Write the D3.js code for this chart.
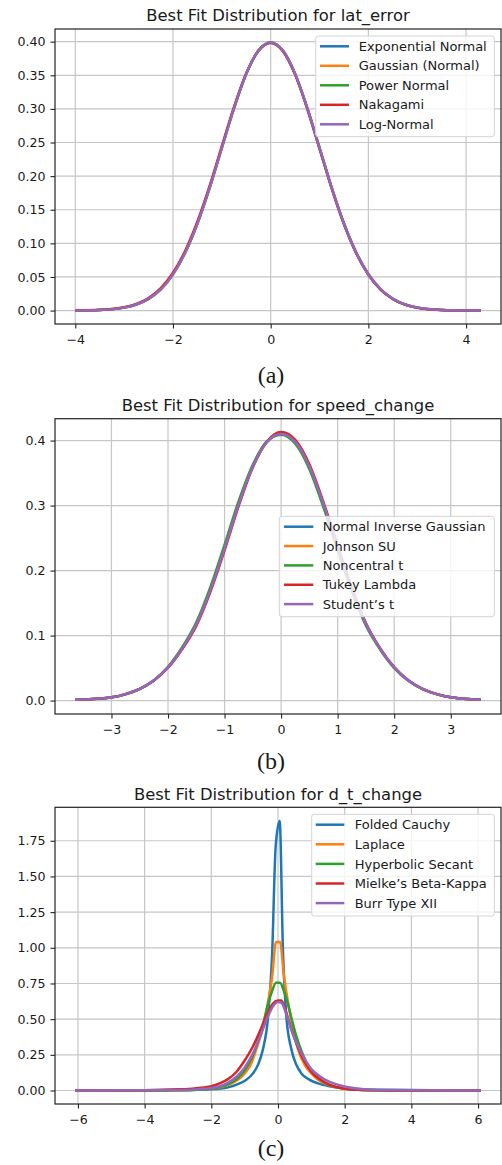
<!DOCTYPE html>
<html>
<head>
<meta charset="utf-8">
<script src="https://cdn.jsdelivr.net/npm/d3@7"></script>
<style>
  html, body { margin: 0; padding: 0; background: #fff; }
  svg { display: block; }
  text { font-family: "DejaVu Sans", sans-serif; fill: #1a1a1a; }
  .cap { font-family: "Liberation Serif", "Times New Roman", serif; }
</style>
</head>
<body>
<svg id="chart" width="502" height="1165"></svg>
<script>
// ---------------- DATA ----------------
// Panel (a): lat_error
const titleA = "Best Fit Distribution for lat_error";
const namesA = ["Exponential Normal", "Gaussian (Normal)", "Power Normal", "Nakagami", "Log-Normal"];
const xA = [-4, -3.5, -3, -2.75, -2.5, -2.25, -2, -1.75, -1.5, -1.25, -1, -0.75, -0.5, -0.25, 0, 0.25, 0.5, 0.75, 1, 1.25, 1.5, 1.75, 2, 2.25, 2.5, 2.75, 3, 3.5, 4, 4.3];
const expNormalA = [0.0001, 0.0009, 0.0044, 0.0091, 0.0175, 0.0317, 0.0540, 0.0863, 0.1295, 0.1826, 0.2420, 0.3011, 0.3521, 0.3867, 0.3989, 0.3867, 0.3521, 0.3011, 0.2420, 0.1826, 0.1295, 0.0863, 0.0540, 0.0317, 0.0175, 0.0091, 0.0044, 0.0009, 0.0001, 0.0000];
const gaussianA  = [0.0001, 0.0009, 0.0044, 0.0091, 0.0175, 0.0317, 0.0540, 0.0863, 0.1295, 0.1826, 0.2420, 0.3011, 0.3521, 0.3867, 0.3989, 0.3867, 0.3521, 0.3011, 0.2420, 0.1826, 0.1295, 0.0863, 0.0540, 0.0317, 0.0175, 0.0091, 0.0044, 0.0009, 0.0001, 0.0000];
const powerNormA = [0.0001, 0.0009, 0.0045, 0.0092, 0.0176, 0.0319, 0.0543, 0.0866, 0.1299, 0.1830, 0.2424, 0.3014, 0.3523, 0.3868, 0.3988, 0.3865, 0.3518, 0.3007, 0.2416, 0.1822, 0.1291, 0.0860, 0.0537, 0.0315, 0.0174, 0.0090, 0.0044, 0.0009, 0.0001, 0.0000];
const nakagamiA  = [0.0002, 0.0011, 0.0050, 0.0100, 0.0188, 0.0335, 0.0562, 0.0890, 0.1325, 0.1855, 0.2445, 0.3030, 0.3530, 0.3866, 0.3982, 0.3858, 0.3510, 0.2998, 0.2408, 0.1815, 0.1286, 0.0855, 0.0533, 0.0312, 0.0172, 0.0089, 0.0043, 0.0009, 0.0001, 0.0000];
const logNormalA = [0.0001, 0.0009, 0.0044, 0.0090, 0.0174, 0.0316, 0.0539, 0.0862, 0.1294, 0.1826, 0.2420, 0.3012, 0.3522, 0.3868, 0.3989, 0.3868, 0.3522, 0.3012, 0.2421, 0.1827, 0.1296, 0.0864, 0.0541, 0.0318, 0.0176, 0.0092, 0.0045, 0.0009, 0.0001, 0.0000];
const xTicksA = [-4, -2, 0, 2, 4];
const yTicksA = [0, 0.05, 0.10, 0.15, 0.20, 0.25, 0.30, 0.35, 0.40];

// Panel (b): speed_change
const titleB = "Best Fit Distribution for speed_change";
const namesB = ["Normal Inverse Gaussian", "Johnson SU", "Noncentral t", "Tukey Lambda", "Student\u2019s t"];
const xB = [-3.64, -3.5, -3, -2.75, -2.5, -2.25, -2, -1.75, -1.5, -1.25, -1, -0.75, -0.5, -0.25, 0, 0.25, 0.5, 0.75, 1, 1.25, 1.5, 1.75, 2, 2.25, 2.5, 2.75, 3, 3.53];
const norInvGaussB = [0.0012, 0.0016, 0.0050, 0.0100, 0.0180, 0.0310, 0.0510, 0.0800, 0.1170, 0.1700, 0.2340, 0.3020, 0.3600, 0.3980, 0.4100, 0.3980, 0.3600, 0.3020, 0.2360, 0.1720, 0.1180, 0.0800, 0.0510, 0.0310, 0.0180, 0.0100, 0.0050, 0.0013];
const johnsonSUB   = [0.0012, 0.0016, 0.0050, 0.0100, 0.0180, 0.0310, 0.0510, 0.0800, 0.1170, 0.1700, 0.2340, 0.3020, 0.3600, 0.3980, 0.4100, 0.3980, 0.3600, 0.3020, 0.2360, 0.1720, 0.1180, 0.0800, 0.0510, 0.0310, 0.0180, 0.0100, 0.0050, 0.0013];
const noncentralTB = [0.0011, 0.0015, 0.0047, 0.0097, 0.0178, 0.0312, 0.0520, 0.0820, 0.1205, 0.1750, 0.2400, 0.3070, 0.3630, 0.3990, 0.4090, 0.3950, 0.3560, 0.2970, 0.2310, 0.1680, 0.1150, 0.0785, 0.0500, 0.0305, 0.0178, 0.0100, 0.0050, 0.0013];
const tukeyLambdaB = [0.0012, 0.0016, 0.0050, 0.0100, 0.0180, 0.0308, 0.0505, 0.0790, 0.1150, 0.1675, 0.2310, 0.2995, 0.3590, 0.3985, 0.4130, 0.4010, 0.3635, 0.3050, 0.2385, 0.1735, 0.1190, 0.0805, 0.0512, 0.0311, 0.0180, 0.0100, 0.0050, 0.0013];
const studentTB    = [0.0012, 0.0016, 0.0050, 0.0100, 0.0180, 0.0310, 0.0510, 0.0800, 0.1170, 0.1700, 0.2340, 0.3020, 0.3600, 0.3980, 0.4100, 0.3980, 0.3600, 0.3020, 0.2360, 0.1720, 0.1180, 0.0800, 0.0510, 0.0310, 0.0180, 0.0100, 0.0050, 0.0013];
const xTicksB = [-3, -2, -1, 0, 1, 2, 3];
const yTicksB = [0, 0.1, 0.2, 0.3, 0.4];

// Panel (c): d_t_change
const titleC = "Best Fit Distribution for d_t_change";
const namesC = ["Folded Cauchy", "Laplace", "Hyperbolic Secant", "Mielke\u2019s Beta-Kappa", "Burr Type XII"];
const foldedCauchyX = [-6.08, -5, -4, -3, -2.5, -2, -1.5, -1.15, -0.95, -0.75, -0.6, -0.45, -0.3, -0.18, -0.07, 0.05, 0.15, 0.25, 0.4, 0.55, 0.7, 0.95, 1.2, 1.5, 2, 2.5, 3, 4, 5, 6.08];
const foldedCauchyY = [0.001, 0.001, 0.002, 0.003, 0.005, 0.008, 0.022, 0.050, 0.075, 0.120, 0.180, 0.290, 0.510, 0.930, 1.710, 1.890, 0.970, 0.520, 0.290, 0.180, 0.120, 0.075, 0.050, 0.032, 0.016, 0.009, 0.005, 0.003, 0.002, 0.001];
const laplaceX = [-6.08, -4, -3, -2.5, -2, -1.5, -1.2, -1.0, -0.8, -0.65, -0.5, -0.4, -0.3, -0.18, -0.06, 0.06, 0.18, 0.3, 0.4, 0.6, 0.8, 1.0, 1.2, 1.5, 2, 2.5, 3, 4, 6.08];
const laplaceY = [0.000, 0.001, 0.002, 0.005, 0.013, 0.040, 0.075, 0.120, 0.190, 0.290, 0.400, 0.500, 0.620, 0.790, 1.040, 1.040, 0.800, 0.620, 0.490, 0.290, 0.180, 0.120, 0.075, 0.040, 0.013, 0.005, 0.002, 0.001, 0.000];
const hypSecantX = [-6.08, -4, -3, -2.5, -2, -1.5, -1.25, -1.0, -0.85, -0.7, -0.55, -0.42, -0.3, -0.18, -0.06, 0.06, 0.18, 0.3, 0.42, 0.55, 0.7, 0.85, 1.0, 1.25, 1.5, 2, 2.5, 3, 4, 6.08];
const hypSecantY = [0.000, 0.000, 0.001, 0.004, 0.013, 0.043, 0.078, 0.140, 0.198, 0.279, 0.381, 0.492, 0.604, 0.695, 0.755, 0.755, 0.695, 0.604, 0.492, 0.381, 0.279, 0.198, 0.140, 0.078, 0.043, 0.013, 0.004, 0.001, 0.000, 0.000];
const mielkeX = [-6.08, -4, -3, -2.5, -2, -1.75, -1.5, -1.25, -1.0, -0.75, -0.5, -0.3, -0.15, 0.0, 0.1, 0.25, 0.4, 0.6, 0.8, 1.0, 1.25, 1.5, 2, 2.5, 3, 4, 6.08];
const mielkeY = [0.000, 0.002, 0.008, 0.015, 0.030, 0.050, 0.080, 0.130, 0.210, 0.310, 0.440, 0.550, 0.610, 0.630, 0.630, 0.545, 0.430, 0.300, 0.200, 0.130, 0.080, 0.045, 0.013, 0.004, 0.001, 0.000, 0.000];
const burrX = [-6.08, -4, -3, -2.5, -2, -1.75, -1.5, -1.25, -1.0, -0.75, -0.5, -0.3, -0.15, 0.0, 0.1, 0.25, 0.4, 0.6, 0.8, 1.0, 1.25, 1.5, 2, 2.5, 3, 4, 6.08];
const burrY = [0.000, 0.001, 0.003, 0.007, 0.018, 0.030, 0.055, 0.095, 0.160, 0.260, 0.400, 0.520, 0.590, 0.620, 0.615, 0.535, 0.425, 0.310, 0.220, 0.150, 0.100, 0.065, 0.028, 0.010, 0.003, 0.001, 0.000];
const xTicksC = [-6, -4, -2, 0, 2, 4, 6];
const yTicksC = [0, 0.25, 0.50, 0.75, 1.00, 1.25, 1.50, 1.75];

const colors = ["#1f77b4", "#ff7f0e", "#2ca02c", "#d62728", "#9467bd"];

// ---------------- DRAWING ----------------
const svg = d3.select("#chart");

function zipXY(xs, ys) { return xs.map((x, i) => [x, ys[i]]); }

function panel(cfg) {
  const x = d3.scaleLinear().domain(cfg.xDomain).range([cfg.left, cfg.right]);
  const y = d3.scaleLinear().domain(cfg.yDomain).range([cfg.bottom, cfg.top]);
  const g = svg.append("g");

  // grid
  g.append("g").selectAll("line").data(cfg.xTicks).join("line")
    .attr("x1", d => x(d)).attr("x2", d => x(d))
    .attr("y1", cfg.top).attr("y2", cfg.bottom)
    .attr("stroke", "#c6c6c6").attr("stroke-width", 1.2);
  g.append("g").selectAll("line").data(cfg.yTicks).join("line")
    .attr("x1", cfg.left).attr("x2", cfg.right)
    .attr("y1", d => y(d)).attr("y2", d => y(d))
    .attr("stroke", "#c6c6c6").attr("stroke-width", 1.2);

  // curves
  const line = d3.line().x(d => x(d[0])).y(d => y(d[1])).curve(d3.curveMonotoneX);
  const clip = "clip" + cfg.id;
  svg.append("clipPath").attr("id", clip).append("rect")
    .attr("x", cfg.left).attr("y", cfg.top)
    .attr("width", cfg.right - cfg.left).attr("height", cfg.bottom - cfg.top);
  g.append("g").attr("clip-path", `url(#${clip})`)
    .selectAll("path").data(cfg.series).join("path")
    .attr("d", d => line(d))
    .attr("fill", "none")
    .attr("stroke", (d, i) => colors[i])
    .attr("stroke-width", 2.5)
    .attr("stroke-linejoin", "round");

  // axes
  const xAxis = d3.axisBottom(x).tickValues(cfg.xTicks).tickSize(4.5).tickPadding(4).tickFormat(d3.format("d"));
  const yAxis = d3.axisLeft(y).tickValues(cfg.yTicks).tickSize(4.5).tickPadding(5).tickFormat(d3.format(cfg.yFmt));
  const gx = g.append("g").attr("transform", `translate(0,${cfg.bottom})`).call(xAxis);
  const gy = g.append("g").attr("transform", `translate(${cfg.left},0)`).call(yAxis);
  [gx, gy].forEach(a => {
    a.select(".domain").remove();
    a.selectAll(".tick line").attr("stroke", "#222").attr("stroke-width", 1.1);
    a.selectAll(".tick text").attr("font-size", 12.6).attr("fill", "#1a1a1a")
      .style("font-family", '"DejaVu Sans", sans-serif');
  });
  gx.selectAll(".tick text").attr("y", 15).attr("dy", "0.36em");

  // frame
  g.append("rect").attr("x", cfg.left).attr("y", cfg.top)
    .attr("width", cfg.right - cfg.left).attr("height", cfg.bottom - cfg.top)
    .attr("fill", "none").attr("stroke", "#222").attr("stroke-width", 1.2);

  // title
  g.append("text").attr("x", (cfg.left + cfg.right) / 2).attr("y", cfg.titleY)
    .attr("text-anchor", "middle").attr("font-size", 16.4).text(cfg.title);

  // caption
  g.append("text").attr("class", "cap").attr("x", 271).attr("y", cfg.capY)
    .attr("text-anchor", "middle").attr("font-size", 24).text(cfg.caption);

  // legend
  const L = cfg.legend;
  const lg = g.append("g");
  lg.append("rect").attr("x", L.x).attr("y", L.y).attr("width", L.w).attr("height", L.h)
    .attr("rx", 2.5).attr("fill", "#fff").attr("fill-opacity", 0.8)
    .attr("stroke", "#d4d4d4").attr("stroke-width", 1);
  const rows = lg.selectAll("g.row").data(cfg.names).join("g").attr("class", "row")
    .attr("transform", (d, i) => `translate(0,${L.row0 + i * L.step})`);
  rows.append("line").attr("x1", L.hx0).attr("x2", L.hx1).attr("y1", 0).attr("y2", 0)
    .attr("stroke", (d, i) => colors[i]).attr("stroke-width", 2.5);
  rows.append("text").attr("x", L.tx).attr("y", 0).attr("dy", "0.36em")
    .attr("font-size", 13).text(d => d);
}

panel({
  id: "a", title: titleA, caption: "(a)", names: namesA,
  series: [expNormalA, gaussianA, powerNormA, nakagamiA, logNormalA].map(ys => zipXY(xA, ys)),
  left: 55, right: 501, top: 29, bottom: 324,
  xDomain: [-4.415, 4.715], yDomain: [-0.01995, 0.41885],
  xTicks: xTicksA, yTicks: yTicksA, yFmt: ".2f",
  titleY: 21, capY: 383,
  legend: { x: 315.7, y: 36, w: 178.6, h: 100.7, row0: 46.3, step: 19.5, hx0: 320, hx1: 349, tx: 358.7 }
});

panel({
  id: "b", title: titleB, caption: "(b)", names: namesB,
  series: [norInvGaussB, johnsonSUB, noncentralTB, tukeyLambdaB, studentTB].map(ys => zipXY(xB, ys)),
  left: 55, right: 501, top: 418.7, bottom: 714,
  xDomain: [-3.9985, 3.8885], yDomain: [-0.02065, 0.43365],
  xTicks: xTicksB, yTicks: yTicksB, yFmt: ".1f",
  titleY: 410.5, capY: 769,
  legend: { x: 279.3, y: 516.3, w: 215, h: 100.4, row0: 526.7, step: 19.35, hx0: 284, hx1: 313.3, tx: 322.7 }
});

panel({
  id: "c", title: titleC, caption: "(c)", names: namesC,
  series: [zipXY(foldedCauchyX, foldedCauchyY), zipXY(laplaceX, laplaceY), zipXY(hypSecantX, hypSecantY), zipXY(mielkeX, mielkeY), zipXY(burrX, burrY)],
  left: 55, right: 501, top: 807.3, bottom: 1104,
  xDomain: [-6.688, 6.688], yDomain: [-0.0945, 1.9845],
  xTicks: xTicksC, yTicks: yTicksC, yFmt: ".2f",
  titleY: 799.5, capY: 1156,
  legend: { x: 311.7, y: 814.3, w: 182.6, h: 101.7, row0: 824.7, step: 19.6, hx0: 315.7, hx1: 344.3, tx: 354.7 }
});
</script>
</body>
</html>
